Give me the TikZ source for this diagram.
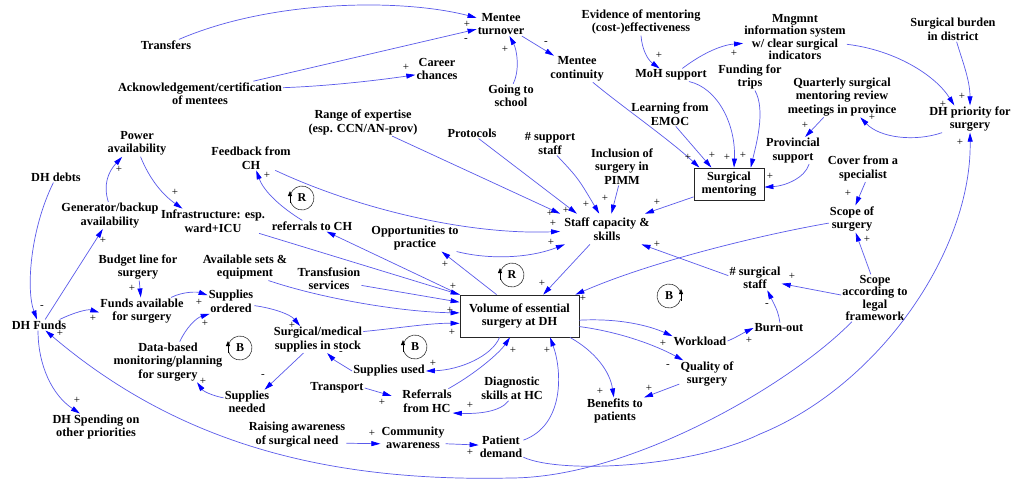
\documentclass[tikz,border=0pt]{standalone}
\usepackage{fontspec}
\setmainfont{Liberation Serif}
\usetikzlibrary{arrows.meta,calc}
\definecolor{linec}{RGB}{90,90,235}
\begin{document}
\begin{tikzpicture}[x=1pt,y=-1pt,
  cl/.style={font=\fontsize{12.3}{13.5}\selectfont\bfseries, align=center, inner sep=1pt},
  tight/.style={font=\fontsize{12.3}{10.5}\selectfont\bfseries},
  box/.style={cl, draw=black!85, line width=0.8pt},
  sg/.style={font=\fontsize{11}{11}\selectfont, inner sep=0pt},
  ln/.style={draw=linec, line width=0.7pt, -{Triangle[length=9pt,width=5pt,color=blue]}},
  loopc/.style={draw=black!80, line width=0.6pt},
  looplet/.style={font=\fontsize{12}{12}\selectfont\bfseries, inner sep=0pt},
  looparr/.style={line width=0.8pt, -{Triangle[length=5pt,width=4pt]}}]
\fill[white] (0,0) rectangle (1024,482);
\useasboundingbox (0,0) rectangle (1024,482);

% ---------- nodes ----------
\node[cl] (turn) at (501,24) {Mentee\\turnover};
\node[cl] (transf) at (166,45) {Transfers};
\node[cl] (ack) at (200,93.5) {Acknowledgement/certification\\of mentees};
\node[cl] (career) at (437,69) {Career\\chances};
\node[cl] (school) at (511,96) {Going to\\school};
\node[cl] (cont) at (577,69) {Mentee\\continuity};
\node[cl] (evid) at (641,22) {Evidence of mentoring\\(cost-)effectiveness};
\node[cl] (moh) at (671,75) {MoH support};
\node[cl,tight] (mis) at (795,37) {Mngmnt\\information system\\w/ clear surgical\\indicators};
\node[cl] (burden) at (953,29.5) {Surgical burden\\in district};
\node[cl] (trips) at (750,77) {Funding for\\trips};
\node[cl] (quart) at (842,97) {Quarterly surgical\\mentoring review\\meetings in province};
\node[cl] (prio) at (970,119) {DH priority for\\surgery};
\node[cl] (emoc) at (670,114) {Learning from\\EMOC};
\node[cl] (prov) at (793,150.5) {Provincial\\support};
\node[box, minimum width=70pt, minimum height=32pt] (mentor) at (729,184) {Surgical\\mentoring};
\node[cl] (cover) at (863,168.5) {Cover from a\\specialist};
\node[cl] (scope) at (852,219) {Scope of\\surgery};
\node[cl,tight] (legal) at (875,298) {Scope\\according to\\legal\\framework};
\node[cl] (sstaff) at (755,278) {\# surgical\\staff};
\node[cl] (burn) at (779,328) {Burn-out};
\node[cl, inner sep=4pt] (staff) at (607,229) {Staff capacity \&\\skills};
\node[cl] (pimm) at (622,166.5) {Inclusion of\\surgery in\\PIMM};
\node[cl] (support) at (550,143.5) {\# support\\staff};
\node[cl] (proto) at (472,133) {Protocols};
\node[cl] (range) at (363,122.5) {Range of expertise\\(esp. CCN/AN-prov)};
\node[cl] (feed) at (251,158) {Feedback from\\CH};
\node[cl] (refch) at (312,226) {referrals to CH};
\node[cl] (power) at (137,143.5) {Power\\availability};
\node[cl] (infra) at (213,221) {Infrastructure: esp.\\ward+ICU};
\node[cl] (gen) at (110,215.5) {Generator/backup\\availability};
\node[cl] (debts) at (56,177) {DH debts};
\node[cl] (budget) at (138,267) {Budget line for\\surgery};
\node[cl] (sets) at (245,267) {Available sets \&\\equipment};
\node[cl] (transfu) at (329,278.5) {Transfusion\\services};
\node[cl] (funds) at (39,325) {DH Funds};
\node[cl] (favail) at (142,311) {Funds available\\for surgery};
\node[cl] (sord) at (231,301.5) {Supplies\\ordered};
\node[cl] (stock) at (318,339.5) {Surgical/medical\\supplies in stock};
\node[cl] (data) at (168,362) {Data-based\\monitoring/planning\\for surgery};
\node[cl] (needed) at (247,402) {Supplies\\needed};
\node[cl] (spend) at (96,427) {DH Spending on\\other priorities};
\node[cl] (used) at (389,371) {Supplies used};
\node[cl] (transp) at (337,388) {Transport};
\node[cl] (refhc) at (427,401) {Referrals\\from HC};
\node[cl] (diag) at (512,388.5) {Diagnostic\\skills at HC};
\node[cl] (raise) at (297,434.5) {Raising awareness\\of surgical need};
\node[cl] (comm) at (413,438) {Community\\awareness};
\node[cl] (demand) at (501,447) {Patient\\demand};
\node[box, minimum width=119pt, minimum height=42pt] (vol) at (519.5,316) {Volume of essential\\surgery at DH};
\node[cl] (opp) at (415,238) {Opportunities to\\practice};
\node[cl] (work) at (700,341) {Workload};
\node[cl] (qual) at (707,374) {Quality of\\surgery};
\node[cl] (benef) at (615,411) {Benefits to\\patients};

% ---------- connectors ----------
\draw[ln] (transf) .. controls (270,0) and (400,-2) .. (turn);
\draw[ln] (ack.13) -- (turn.192);
\draw[ln] (ack.4) .. controls (330,86) and (380,80) .. (career.195);
\draw[ln] (school.80) .. controls (520,70) and (517,50) .. (turn.-55);
\draw[ln] (turn.-30) -- (cont.150);
\draw[ln] (cont) .. controls (620,105) and (670,140) .. (mentor.151);
\draw[ln] (evid.south) .. controls (642,50) and (648,60) .. (moh.150);
\draw[ln] (moh.30) .. controls (700,55) and (720,45) .. (mis.187);
\draw[ln] (moh.-20) .. controls (718,88) and (736,125) .. (mentor.73);
\draw[ln] (emoc.-65) -- (mentor.137);
\draw[ln] (trips.-70) .. controls (766,110) and (756,145) .. (mentor.37);
\draw[ln] (mis.-8) .. controls (895,50) and (935,75) .. (prio.139);
\draw[ln] (burden) .. controls (962,60) and (970,80) .. (prio.north);
\draw[ln] (prio.206) .. controls (915,142) and (880,138) .. (quart.-48);
\draw[ln] (quart.-132) -- (prov.48);
\draw[ln] (prov.-40) .. controls (805,178) and (785,186) .. (mentor.-5);
\draw[ln] (demand) .. controls (560,474) and (690,468) .. (760,434) .. controls (880,385) and (972,250) .. (prio.south);
\draw[ln] (legal) .. controls (790,385) and (630,478) .. (510,478) .. controls (330,482) and (180,445) .. (funds);
\draw[ln] (scope.190) .. controls (760,235) and (650,262) .. ([xshift=-4pt]vol.north east);
\draw[ln] (cover.-80) -- (scope.76);
\draw[ln] (legal.100) -- (scope.-75);
\draw[ln] (legal.175) -- (sstaff.-12);
\draw[ln] (burn.80) .. controls (778,312) .. (sstaff.-45);
\draw[ln] (sstaff.175) -- (staff.-24);
\draw[ln] (work.east) .. controls (735,338) and (745,332) .. (burn.west);
\draw[ln] (vol.-4) .. controls (620,318) and (650,326) .. (work.170);
\draw[ln] (vol.-10) .. controls (620,332) and (655,345) .. (qual.150);
\draw[ln] (qual.200) -- (benef.25);
\draw[ln] (vol.-23) .. controls (596,352) and (610,372) .. (benef.95);
\draw[ln] (staff.-138) -- (vol.42);
\draw[ln] (mentor.-160) -- (staff.22);
\draw[ln] (pimm.-100) -- (staff.74);
\draw[ln] (support.-60) .. controls (578,178) .. (staff.117);
\draw[ln] (proto.-40) -- (staff.153);
\draw[ln] (range.-25) -- (staff.north west);
\draw[ln] (feed.-27) .. controls (360,210) and (470,235) .. (staff.183);
\draw[ln] (opp.-18) .. controls (490,260) and (530,258) .. (staff.200);
\draw[ln] (vol.137) -- (opp.-27);
\draw[ln] (vol.north west) -- (refch.-21);
\draw[ln] (refch.150) .. controls (282,208) and (264,192) .. (feed.-67);
\draw[ln] (infra.-15) -- (vol.north west);
\draw[ln] (transfu.-12) -- (vol.167);
\draw[ln] (sets.-30) .. controls (320,298) and (400,312) .. (vol.177);
\draw[ln] (stock.10) .. controls (400,328) and (430,323) .. (vol.187);
\draw[ln] (power.-75) .. controls (150,180) and (163,195) .. (infra.158);
\draw[ln] (gen.97) .. controls (103,185) and (108,172) .. (power.-138);
\draw[ln] (funds.42) -- (gen.-118);
\draw[ln] (debts.-115) .. controls (30,230) and (26,290) .. (funds.110);
\draw[ln] (funds.15) .. controls (75,312) and (88,309) .. (favail.182);
\draw[ln] (budget) -- (favail);
\draw[ln] (favail.25) .. controls (184,291) and (198,292) .. (sord.165);
\draw[ln] (sord.-10) .. controls (272,308) and (290,314) .. (stock.143);
\draw[ln] (data.60) .. controls (186,328) and (196,318) .. (sord.-150);
\draw[ln] (stock.-137) -- (needed.35);
\draw[ln] (needed.170) .. controls (214,396) and (204,392) .. (data.-35);
\draw[ln] (vol.-133) .. controls (492,356) and (460,370) .. (used.east);
\draw[ln] (used.west) .. controls (344,366) and (334,360) .. (stock.-56);
\draw[ln, shorten >=10pt] (transp.east) -- (refhc.175);
\draw[ln] (refhc.30) .. controls (478,372) and (500,352) .. (vol.-114);
\draw[ln] (diag.-105) .. controls (500,412) and (478,414) .. (refhc.-25);
\draw[ln] (demand.17) .. controls (565,425) and (562,370) .. (vol.-35);
\draw[ln] (raise.-10) -- (comm.-170);
\draw[ln] (comm.-10) -- (demand.175);
\draw[ln] (funds.-100) .. controls (38,365) and (52,395) .. (spend.140);

% ---------- polarity signs ----------
\foreach \x/\y/\s [count=\i] in {
 467/24/+, 466/40/-, 406/67/+, 505/49/+, 546/43/-, 688/157/+, 659/55/+, 734/53/+,
 727/157/+, 712/155/+, 743/155/+, 943/104/+, 962/96/+, 872/117/+, 805/125/+, 770/176/+,
 960/142/+, 60/333/+, 583/298/+, 848/193/+, 867/239/+, 792/276/+, 767/305/-, 657/244/+,
 749/340/+, 663/343/+, 668/366/-, 649/388/+, 600/391/+, 542/283/+, 657/202/+, 605/198/+,
 586/204/+, 566/210/+, 550/213/+, 553/223/+, 551/242/+, 445/264/+, 453/286/+, 450/310/+,
 452/332/+, 267/175/+, 175/192/+, 119/169/+, 103/240/+, 42/307/-, 93/318/+, 132/288/+,
 199/302/+, 292/325/+, 205/323/+, 263/376/-, 203/381/+, 433/363/+, 341/353/-, 382/402/+,
 513/350/+, 470/405/+, 547/350/+, 372/433/+, 470/452/+, 77/400/+}
 \node[sg] (sg\i) at (\x,\y) {\s};

% ---------- loop markers ----------
\foreach \nm/\x/\y/\l/\sd in {L1/302/198/R/-1, L2/512/275/R/-1, L3/669/296/B/1, L4/240/348/B/-1, L5/415/347/B/-1}{
  \node[looplet] (\nm) at (\x,\y) {\l};
  \ifnum\sd<0
    \draw[loopc] (\nm.center) ++(-165:12) arc[start angle=-165, end angle=165, radius=12];
  \else
    \draw[loopc] (\nm.center) ++(15:12) arc[start angle=15, end angle=345, radius=12];
  \fi
  \draw[looparr] ($(\nm.center)+(\sd*12,5)$) -- ++(0,-12);
}
\end{tikzpicture}
\end{document}
